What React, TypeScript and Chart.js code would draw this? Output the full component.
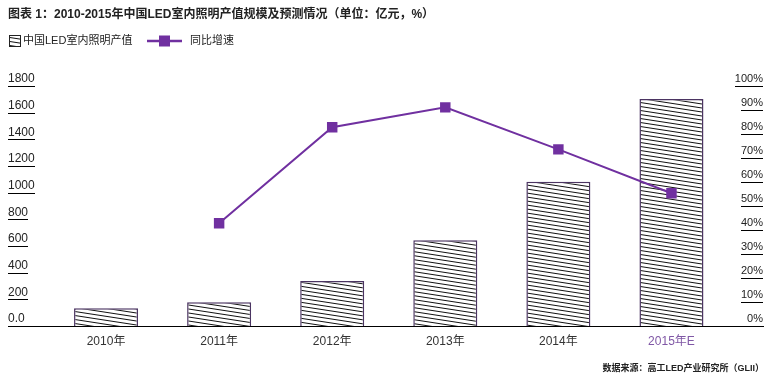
import React, { useEffect, useRef } from "react";
import { Chart, registerables } from "chart.js";

Chart.register(...registerables);

const categories = ["2010年", "2011年", "2012年", "2013年", "2014年", "2015年E"];
const outputValues = [133, 178, 337, 643, 1082, 1703];
const growthRates = [null, 42.8, 82.8, 91.1, 73.6, 55.3];
const leftTicks = [0, 200, 400, 600, 800, 1000, 1200, 1400, 1600, 1800];
const rightTicks = [0, 10, 20, 30, 40, 50, 60, 70, 80, 90, 100];

const barLabel = "中国LED室内照明产值";
const lineLabel = "同比增速";
const titleText = "图表 1：2010-2015年中国LED室内照明产值规模及预测情况（单位：亿元，%）";
const sourceText = "数据来源：高工LED产业研究所（GLII）";

const FONT = 'Liberation Sans, "Noto Sans CJK SC", sans-serif';
const PURPLE = "#7030a0";
const BAR_BORDER = "#4b3462";

const leftLabel = (v: number) => (v === 0 ? "0.0" : String(v));
const rightLabel = (v: number) => `${v}%`;

function makeHatch(): CanvasPattern | string {
  const c = document.createElement("canvas");
  c.width = 26;
  c.height = 4;
  const g = c.getContext("2d");
  if (!g) return "#fff";
  g.fillStyle = "#ffffff";
  g.fillRect(0, 0, 26, 4);
  g.strokeStyle = "#111";
  g.lineWidth = 1;
  g.beginPath();
  for (let k = -1; k <= 1; k++) {
    g.moveTo(0, k * 4);
    g.lineTo(26, k * 4 + 4);
  }
  g.stroke();
  const p = g.createPattern(c, "repeat");
  return p || "#fff";
}

export default function App() {
  const ref = useRef<HTMLCanvasElement | null>(null);

  useEffect(() => {
    document.body.style.margin = "0";
    const canvas = ref.current;
    if (!canvas) return;
    const hatch = makeHatch();

    const decorPlugin = {
      id: "decor",
      afterDraw(chart: any) {
        const ctx: CanvasRenderingContext2D = chart.ctx;
        const yL = chart.scales.y;
        const yR = chart.scales.y1;
        ctx.save();
        ctx.setTransform(1, 0, 0, 1, 0, 0);
        ctx.globalAlpha = 1;
        ctx.fillStyle = "#000000";
        ctx.font = `12px ${FONT}`;
        leftTicks.forEach((v) => {
          const y = Math.round(yL.getPixelForValue(v));
          const w = Math.round(ctx.measureText(leftLabel(v)).width);
          ctx.fillRect(8, y, w, 1);
        });
        ctx.font = `11px ${FONT}`;
        const rEdge = Math.round(yR.right);
        rightTicks.forEach((v) => {
          const y = Math.round(yR.getPixelForValue(v));
          const w = Math.round(ctx.measureText(rightLabel(v)).width);
          ctx.fillRect(rEdge - w, y, w, 1);
        });
        // baseline
        const by = Math.round(yL.getPixelForValue(0));
        ctx.fillRect(8, by, rEdge + 1 - 8, 1);

        // source
        ctx.font = `bold 9px ${FONT}`;
        ctx.fillStyle = "#222";
        ctx.textAlign = "right";
        ctx.textBaseline = "middle";
        ctx.fillText(sourceText, 764, 369);

        // legend
        const ly = 41;
        ctx.fillStyle = hatch as any;
        ctx.fillRect(9, 35, 11, 11);
        ctx.strokeStyle = "#222";
        ctx.lineWidth = 1;
        ctx.strokeRect(9.5, 35.5, 11, 11);
        ctx.font = `11px ${FONT}`;
        ctx.fillStyle = "#222";
        ctx.textAlign = "left";
        ctx.fillText(chart.data.datasets[0].label, 23, ly);
        ctx.strokeStyle = PURPLE;
        ctx.lineWidth = 2.5;
        ctx.beginPath();
        ctx.moveTo(147, ly);
        ctx.lineTo(182, ly);
        ctx.stroke();
        ctx.fillStyle = PURPLE;
        ctx.fillRect(159, ly - 5.5, 11, 11);
        ctx.fillStyle = "#222";
        ctx.fillText(chart.data.datasets[1].label, 190, ly);
        ctx.restore();
      },
    };

    const chart = new Chart(canvas, {
      type: "bar",
      data: {
        labels: categories,
        datasets: [
          {
            type: "bar",
            label: barLabel,
            data: outputValues,
            yAxisID: "y",
            backgroundColor: hatch as any,
            borderColor: BAR_BORDER,
            borderWidth: 1.5,
            categoryPercentage: 1,
            barPercentage: 0.566,
            order: 2,
          },
          {
            type: "line",
            label: lineLabel,
            data: growthRates as any,
            yAxisID: "y1",
            borderColor: PURPLE,
            borderWidth: 2,
            backgroundColor: PURPLE,
            pointStyle: "rect",
            pointRadius: 7.4,
            pointBorderWidth: 0,
            pointBackgroundColor: PURPLE,
            tension: 0,
            order: 1,
          },
        ],
      },
      options: {
        responsive: false,
        animation: false,
        layout: { padding: { top: 0, left: 8, right: 9, bottom: 17 } },
        plugins: {
          legend: { display: false },
          tooltip: { enabled: false },
          title: {
            display: true,
            text: titleText,
            align: "start",
            color: "#222",
            font: { family: FONT, size: 12, weight: "bold" },
            padding: { top: 7.5, bottom: 64.1 },
          },
        },
        scales: {
          x: {
            grid: { display: false, drawTicks: false },
            border: { display: false },
            ticks: {
              padding: 8,
              font: { family: FONT, size: 12 },
              color: (c: any) => (c.index === 5 ? "#8058a6" : "#333"),
            },
            afterFit: (s: any) => {
              s.height = 36;
            },
          },
          y: {
            position: "left",
            min: 0,
            max: 1800,
            afterBuildTicks: (s: any) => {
              s.ticks = leftTicks.map((v) => ({ value: v }));
            },
            grid: { display: false, drawTicks: false },
            border: { display: false },
            ticks: {
              crossAlign: "far",
              labelOffset: -7,
              padding: 0,
              color: "#222",
              font: { family: FONT, size: 12 },
              callback: (v: any) => leftLabel(Number(v)),
            },
            afterFit: (s: any) => {
              s.width = 41.5;
            },
          },
          y1: {
            position: "right",
            min: 0,
            max: 100,
            afterBuildTicks: (s: any) => {
              s.ticks = rightTicks.map((v) => ({ value: v }));
            },
            grid: { display: false, drawTicks: false },
            border: { display: false },
            ticks: {
              crossAlign: "far",
              labelOffset: -7,
              padding: 0,
              color: "#222",
              font: { family: FONT, size: 11 },
              callback: (v: any) => rightLabel(Number(v)),
            },
            afterFit: (s: any) => {
              s.width = 35;
            },
          },
        },
      },
      plugins: [decorPlugin],
    });
    return () => chart.destroy();
  }, []);

  return (
    <div style={{ width: 772, height: 379, background: "#fff" }}>
      <canvas ref={ref} width={772} height={379} style={{ display: "block" }} />
    </div>
  );
}
